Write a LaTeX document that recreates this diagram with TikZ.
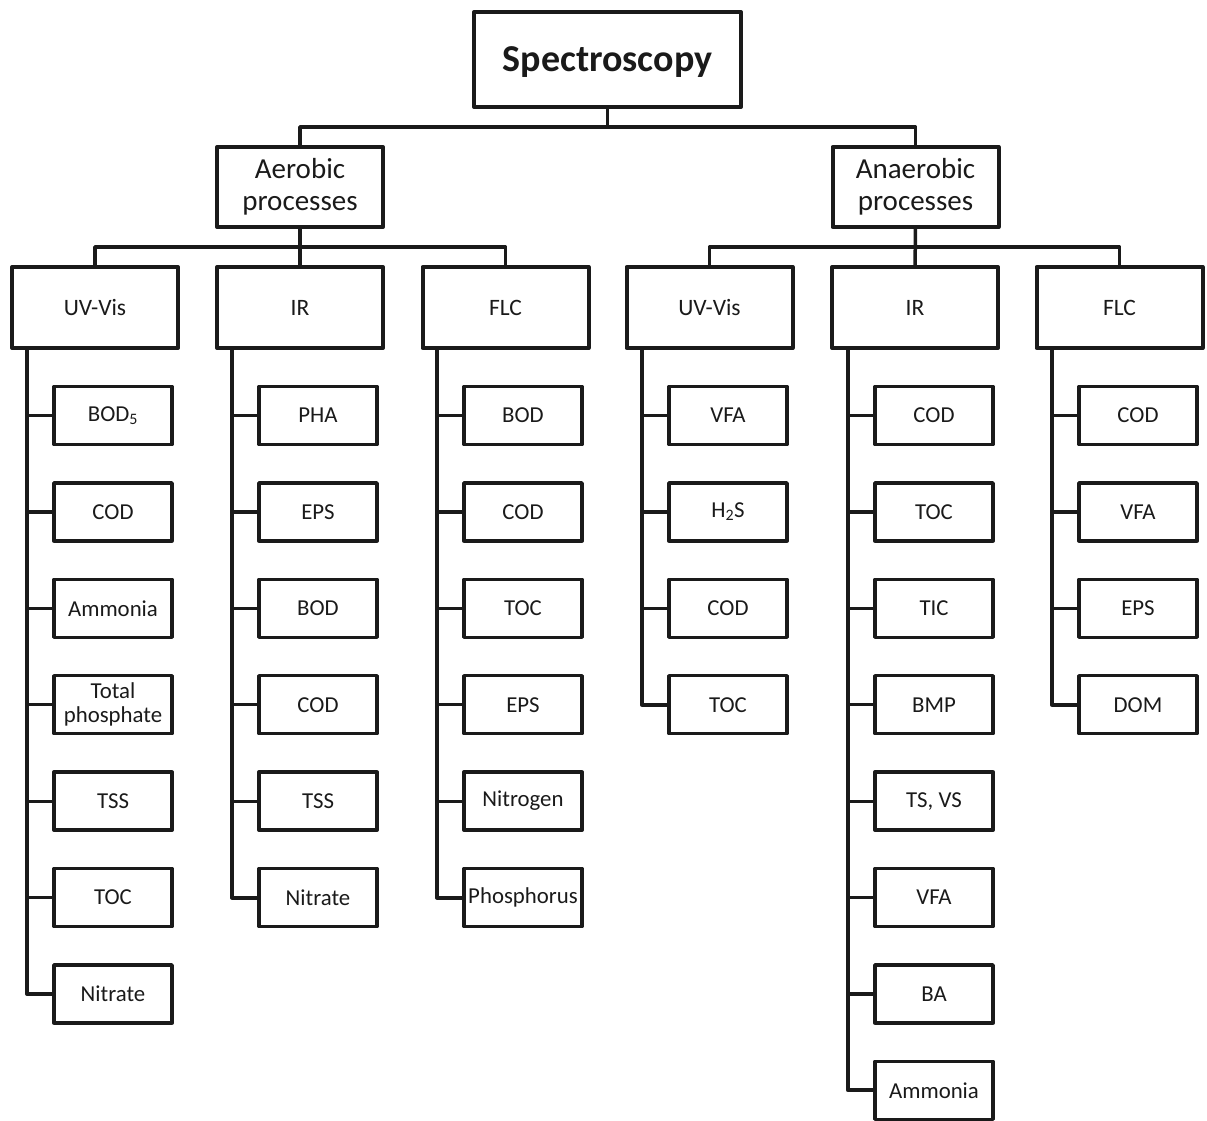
\documentclass[tikz,border=0pt]{standalone}
\usepackage{fontspec}
\setmainfont{Carlito}
\definecolor{ink}{RGB}{26,26,26}
\tikzset{
  every node/.style={text=ink},
  topbox/.style={draw=ink, line width=4pt, line join=round, minimum width=267pt, minimum height=95pt, inner sep=0pt,
    text height=23pt, text depth=0pt, font=\fontsize{38}{40}\selectfont\bfseries},
  procbox/.style={draw=ink, line width=4pt, line join=round, minimum width=166pt, minimum height=80pt, inner sep=0pt,
    align=center, font=\fontsize{29}{31.5}\selectfont},
  methbox/.style={draw=ink, line width=4pt, line join=round, minimum width=166pt, minimum height=81pt, inner sep=0pt,
    font=\fontsize{23.5}{25}\selectfont},
  leafbox/.style={draw=ink, line width=3.5pt, line join=round, minimum width=118pt, minimum height=58pt, inner sep=0pt,
    align=center, font=\fontsize{22.8}{24}\selectfont},
  conn/.style={draw=ink, line width=3.5pt, line join=round},
  trunk/.style={draw=ink, line width=4pt, line join=round},
  branch/.style={draw=ink, line width=3.2pt},
}
\newcommand\leafcolumn[4]{% #1 prefix, #2 trunk x, #3 list, #4 count
  \coordinate (#1t) at (#2,348);
  \foreach \t [count=\i] in {#3} {
    \node[leafbox] (#1\i) at ({#2+86},{415.5+96.4*(\i-1)}) {\t};
    \draw[branch] (#1\i.west) -- (#1\i.west -| #1t);
  }
  \draw[trunk] (#1t) |- (#1#4.west);
}
\begin{document}
\begin{tikzpicture}[x=1pt,y=-1pt]
\useasboundingbox (0,0) rectangle (1207,1120);
% top
\node[topbox] (top) at (607.5,59.5) {Spectroscopy};
\node[procbox] (aer) at (300,187) {Aerobic\\processes};
\node[procbox] (ana) at (915.5,187) {Anaerobic\\processes};
\coordinate (bus1) at (607.5,127);
\draw[conn] (top) -- (bus1);
\draw[conn] (aer.north) |- (bus1);
\draw[conn] (ana.north) |- (bus1);
% methods
\node[methbox] (m1) at (95,307.5) {UV-Vis};
\node[methbox] (m2) at (300,307.5) {IR};
\node[methbox] (m3) at (505.5,307.5) {FLC};
\node[methbox] (m4) at (709.5,307.5) {UV-Vis};
\node[methbox] (m5) at (915,307.5) {IR};
\node[methbox] (m6) at (1119.5,307.5) {FLC};
\coordinate (bus2) at (300,247);
\coordinate (bus3) at (915,247);
\draw[conn] (aer) -- (m2);
\draw[conn] (m1.north) |- (bus2);
\draw[conn] (m3.north) |- (bus2);
\draw[conn] (ana) -- (m5);
\draw[conn] (m4.north) |- (bus3);
\draw[conn] (m6.north) |- (bus3);
% leaves
\leafcolumn{a}{27}{BOD\textsubscript{5},COD,Ammonia,Total\\phosphate,TSS,TOC,Nitrate}{7}
\leafcolumn{b}{232}{PHA,EPS,BOD,COD,TSS,Nitrate}{6}
\leafcolumn{c}{437}{BOD,COD,TOC,EPS,Nitrogen,Phosphorus}{6}
\leafcolumn{d}{642}{VFA,H\textsubscript{2}S,COD,TOC}{4}
\leafcolumn{e}{848}{COD,TOC,TIC,BMP,{TS, VS},VFA,BA,Ammonia}{8}
\leafcolumn{f}{1052}{COD,VFA,EPS,DOM}{4}
\end{tikzpicture}
\end{document}
